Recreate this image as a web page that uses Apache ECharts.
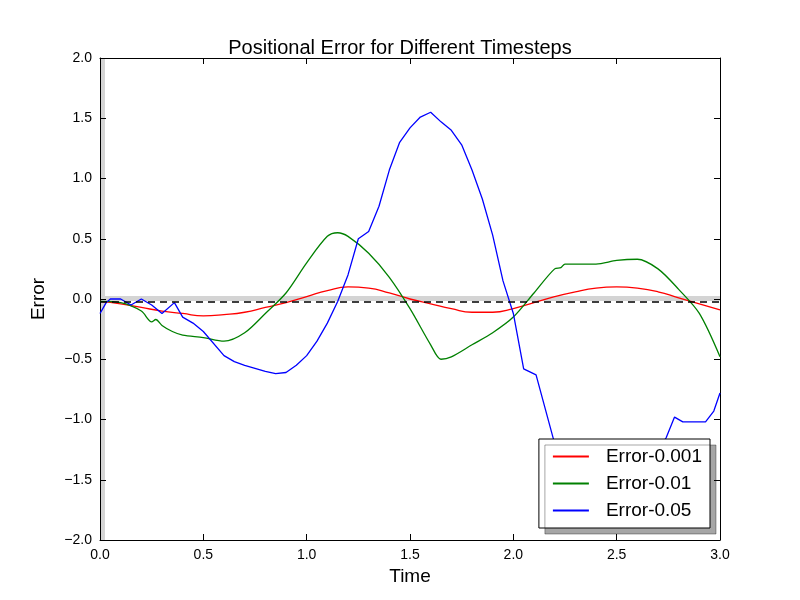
<!DOCTYPE html>
<html>
<head>
<meta charset="utf-8">
<script src="https://cdn.jsdelivr.net/npm/echarts@6/dist/echarts.min.js"></script>
<style>html,body{margin:0;background:#fff}#chart{width:800px;height:600px}</style>
</head>
<body>
<div id="chart"></div>
<script>
// Error-0.001
var redData = [[0,-0.02],[0.1,-0.04],[0.2,-0.07],[0.3,-0.10],[0.4,-0.12],[0.5,-0.14],[0.6,-0.13],[0.7,-0.11],[0.8,-0.07],[0.9,-0.03],[1.0,0.02],[1.1,0.07],[1.2,0.10],[1.3,0.09],[1.4,0.05],[1.5,0.0],[1.6,-0.04],[1.7,-0.08],[1.8,-0.11],[1.9,-0.11],[2.0,-0.08],[2.1,-0.03],[2.2,0.02],[2.3,0.06],[2.4,0.09],[2.5,0.10],[2.6,0.09],[2.7,0.06],[2.8,0.01],[2.9,-0.04],[3.0,-0.09]];
// Error-0.01
var greenData = [[0,-0.02],[0.1,-0.03],[0.2,-0.1],[0.25,-0.19],[0.27,-0.17],[0.3,-0.22],[0.35,-0.27],[0.4,-0.3],[0.5,-0.32],[0.6,-0.35],[0.7,-0.28],[0.8,-0.12],[0.9,0.05],[1.0,0.3],[1.1,0.52],[1.15,0.55],[1.2,0.52],[1.3,0.38],[1.4,0.18],[1.5,-0.08],[1.6,-0.38],[1.65,-0.5],[1.7,-0.48],[1.8,-0.38],[1.9,-0.28],[2.0,-0.15],[2.1,0.05],[2.2,0.25],[2.23,0.26],[2.25,0.29],[2.4,0.29],[2.5,0.32],[2.6,0.33],[2.7,0.25],[2.8,0.08],[2.9,-0.12],[3.0,-0.48]];
// Error-0.05
var blueData = [[0,-0.12],[0.03,-0.03],[0.05,0.0],[0.1,0.0],[0.15,-0.05],[0.2,0.0],[0.25,-0.05],[0.3,-0.12],[0.36,-0.03],[0.4,-0.15],[0.45,-0.2],[0.5,-0.27],[0.6,-0.47],[0.65,-0.52],[0.7,-0.55],[0.8,-0.6],[0.85,-0.62],[0.9,-0.61],[0.95,-0.55],[1.0,-0.47],[1.05,-0.35],[1.1,-0.2],[1.15,-0.02],[1.2,0.2],[1.25,0.5],[1.3,0.56],[1.35,0.77],[1.4,1.07],[1.45,1.3],[1.5,1.42],[1.55,1.51],[1.6,1.55],[1.65,1.47],[1.7,1.40],[1.75,1.28],[1.8,1.07],[1.85,0.83],[1.9,0.53],[1.95,0.15],[2.0,-0.12],[2.05,-0.58],[2.11,-0.63],[2.2,-1.2],[2.3,-1.45],[2.45,-1.6],[2.6,-1.5],[2.74,-1.15],[2.78,-0.98],[2.82,-1.02],[2.93,-1.02],[2.97,-0.93],[3.0,-0.78]];
var seriesNames = ['Error-0.001','Error-0.01','Error-0.05'];
var dashedLevel = -0.02;

var font = 'Liberation Sans, Arial, sans-serif';
var fmt = function (v) { return (v < 0 ? '\u2212' : '') + Math.abs(v).toFixed(1); };
var axisBase = {
  type: 'value', min: 0, max: 3, interval: 0.5,
  axisLine: {onZero: false, lineStyle: {color: '#000', width: 1}},
  axisTick: {inside: true, length: 6, lineStyle: {color: '#000'}},
  splitLine: {show: false}
};

var chart = echarts.init(document.getElementById('chart'));
chart.setOption({
  animation: false,
  title: {text: 'Positional Error for Different Timesteps', left: 'center', top: 33,
    textStyle: {fontFamily: font, fontSize: 20, fontWeight: 'normal', color: '#000'}},
  grid: {left: 100, right: 80, top: 58, bottom: 60},
  legend: {
    data: seriesNames, orient: 'vertical', right: 90, bottom: 72,
    backgroundColor: '#fff', borderColor: '#000', borderWidth: 1, borderRadius: 0,
    padding: [8, 8, 8, 14], itemGap: 8, itemWidth: 36, itemHeight: 2,
    shadowColor: 'rgba(0,0,0,0.35)', shadowOffsetX: 6, shadowOffsetY: 6, shadowBlur: 0,
    icon: 'rect',
    textStyle: {fontFamily: font, fontSize: 19, color: '#000', padding: [0, 0, 0, 12]}
  },
  xAxis: [
    Object.assign({}, axisBase, {position: 'bottom', name: 'Time', nameLocation: 'middle', nameGap: 26,
      nameTextStyle: {fontFamily: font, fontSize: 19, color: '#000'},
      axisLabel: {fontFamily: font, fontSize: 14, color: '#000', formatter: fmt, margin: 8}}),
    Object.assign({}, axisBase, {position: 'top', axisLabel: {show: false}})
  ],
  yAxis: [
    Object.assign({}, axisBase, {min: -2, max: 2, interval: 0.5, position: 'left', name: 'Error',
      nameLocation: 'middle', nameGap: 52,
      nameTextStyle: {fontFamily: font, fontSize: 19, color: '#000'},
      axisLabel: {fontFamily: font, fontSize: 14, color: '#000', formatter: fmt, margin: 8}}),
    Object.assign({}, axisBase, {min: -2, max: 2, interval: 0.5, position: 'right', axisLabel: {show: false}})
  ],
  series: [
    {name: 'band', type: 'line', data: [], silent: true, z: 0,
      markLine: {symbol: 'none', silent: true, label: {show: false}, z: 0,
        lineStyle: {color: '#d4d4d4', width: 5, type: 'solid', opacity: 1},
        data: [{yAxis: 0.01}, {xAxis: 0.008}]}},
    {name: 'zero', type: 'line', data: [], silent: true, z: 1,
      markLine: {symbol: 'none', silent: true, label: {show: false},
        lineStyle: {color: '#000', width: 1.5, type: [7, 5]},
        data: [{yAxis: dashedLevel}]}},
    {name: seriesNames[0], type: 'line', data: redData, showSymbol: false, smooth: true, z: 3,
      lineStyle: {color: '#ff0000', width: 1.3}, itemStyle: {color: '#ff0000'}},
    {name: seriesNames[1], type: 'line', data: greenData, showSymbol: false, smooth: 0.3, z: 3,
      lineStyle: {color: '#008000', width: 1.3}, itemStyle: {color: '#008000'}},
    {name: seriesNames[2], type: 'line', data: blueData, showSymbol: false, z: 3,
      lineStyle: {color: '#0000ff', width: 1.3}, itemStyle: {color: '#0000ff'}}
  ]
});
</script>
</body>
</html>
